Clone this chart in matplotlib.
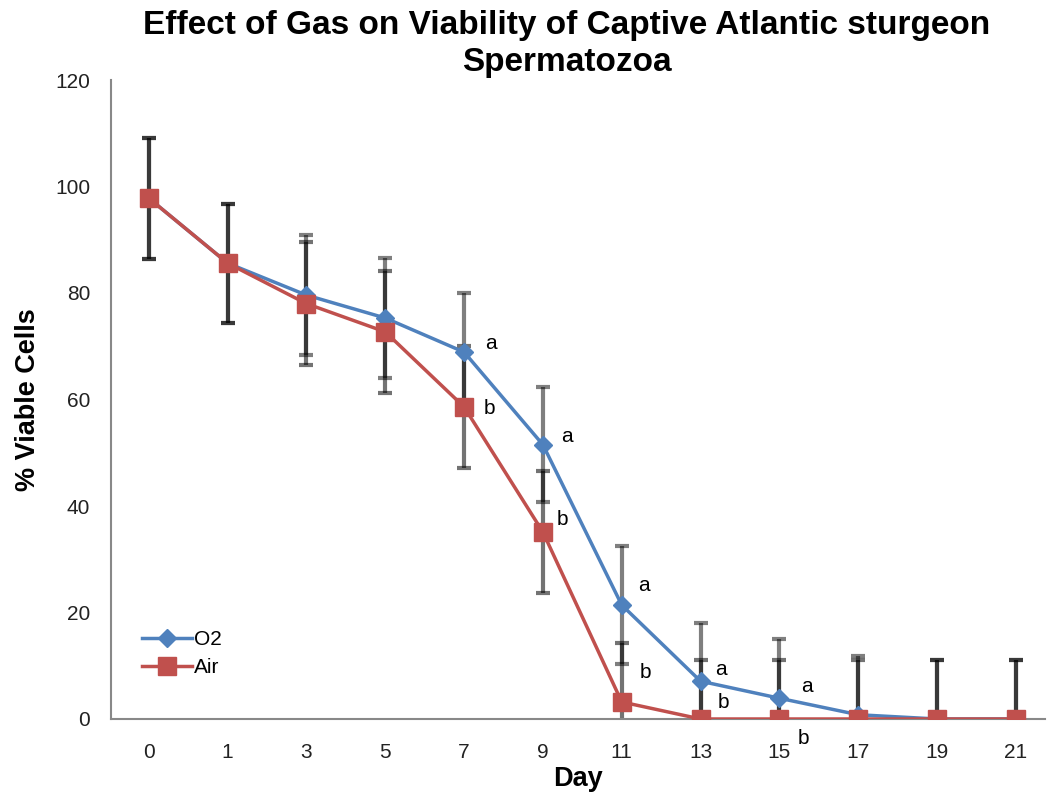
import matplotlib
matplotlib.use("Agg")
import matplotlib.pyplot as plt
import numpy as np

plt.rcParams['font.family'] = ['Liberation Sans', 'DejaVu Sans']

days = ["0", "1", "3", "5", "7", "9", "11", "13", "15", "17", "19", "21"]
o2 = [97.8, 85.6, 79.6, 75.3, 68.9, 51.5, 21.4, 7.1, 3.9, 0.8, 0.0, 0.0]
air = [97.8, 85.6, 78.0, 72.7, 58.6, 35.1, 3.2, 0.0, 0.0, 0.0, 0.0, 0.0]
o2_err = [11.4, 11.2, 11.2, 11.2, 11.1, 10.8, 11.0, 11.0, 11.1, 11.0, 11.0, 11.0]
air_err = [11.4, 11.2, 11.6, 11.5, 11.4, 11.5, 11.0, 11.0, 11.0, 11.0, 11.0, 11.0]
o2_letters = {"7": "a", "9": "a", "11": "a", "13": "a", "15": "a"}
air_letters = {"7": "b", "9": "b", "11": "b", "13": "b", "15": "b"}

# label offsets in pixels (style only)
o2_off = {"7": (27, 9), "9": (24, 8), "11": (22, 20), "13": (20, 12), "15": (28, 12)}
air_off = {"7": (25, -2), "9": (20, 13), "11": (24, 29), "13": (23, 16), "15": (24, -19)}

blue = "#4F81BD"
red = "#C0504D"

fig = plt.figure(figsize=(10.54, 8.01), dpi=100)
ax = fig.add_axes([111/1054, 1 - 719/801, (1045 - 111)/1054, (719 - 80)/801])

x = np.arange(len(days))

ax.errorbar(x, o2, yerr=o2_err, fmt='none', ecolor='black', alpha=0.5,
            elinewidth=3, capsize=5, capthick=3, zorder=2)
ax.errorbar(x, air, yerr=air_err, fmt='none', ecolor='black', alpha=0.55,
            elinewidth=3, capsize=5, capthick=3, zorder=2)

ax.plot(x, o2, color=blue, marker='D', markersize=9.5, linewidth=2.5,
        label='O2', zorder=3)
ax.plot(x, air, color=red, marker='s', markersize=13, linewidth=2.5,
        label='Air', zorder=4)

idx = {d: i for i, d in enumerate(days)}
for d, t in o2_letters.items():
    i = idx[d]
    ax.annotate(t, (x[i], o2[i]), xytext=o2_off[d], textcoords='offset pixels',
                ha='center', va='center', fontsize=15, color='black',
                annotation_clip=False)
for d, t in air_letters.items():
    i = idx[d]
    ax.annotate(t, (x[i], air[i]), xytext=air_off[d], textcoords='offset pixels',
                ha='center', va='center', fontsize=15, color='black',
                annotation_clip=False)

ax.set_xlim(-0.48, 11.37)
ax.set_ylim(0, 120)
ax.set_yticks(np.arange(0, 121, 20))
ax.set_xticks(x)
ax.set_xticklabels(days)
ax.tick_params(axis='both', length=0, labelsize=15, colors='#222222')
ax.tick_params(axis='x', pad=17)
ax.tick_params(axis='y', pad=15)

for s in ['top', 'right']:
    ax.spines[s].set_visible(False)
for s in ['left', 'bottom']:
    ax.spines[s].set_color('#888888')
    ax.spines[s].set_linewidth(1.5)

ax.set_xlabel('Day', fontsize=19.5, fontweight='bold', labelpad=3)
ax.set_ylabel('% Viable Cells', fontsize=19.5, fontweight='bold', labelpad=10)

fig.suptitle('Effect of Gas on Viability of Captive Atlantic sturgeon\nSpermatozoa',
             fontsize=24, fontweight='bold', x=567/1054, y=0.988, va='top',
             linespacing=1.28)

leg = ax.legend(loc='lower left', bbox_to_anchor=(0.033, 0.066), frameon=False,
                fontsize=15, handlelength=2.4, handletextpad=0.1, labelspacing=0.42,
                borderaxespad=0, borderpad=0)

fig.savefig('out.png', dpi=100)
